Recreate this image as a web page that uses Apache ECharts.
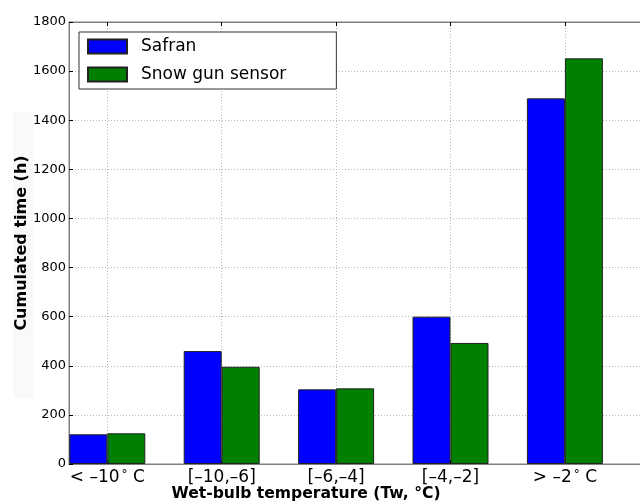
<!DOCTYPE html>
<html>
<head>
<meta charset="utf-8">
<script src="https://cdn.jsdelivr.net/npm/echarts@6/dist/echarts.min.js"></script>
<style>html,body{margin:0;padding:0;background:#fff}#c{width:640px;height:504px}</style>
</head>
<body>
<div id="c"></div>
<script>
var categories = ['< \u201310|\u00b0| C', '[\u201310,\u20136]', '[\u20136,\u20134]', '[\u20134,\u20132]', '> \u20132|\u00b0| C'];
var safran = [121, 460, 304, 600, 1489];
var snowGun = [125, 396, 308, 493, 1652];
var yTicks = [0, 200, 400, 600, 800, 1000, 1200, 1400, 1600, 1800];

var FONT = 'DejaVu Sans';
var catIdx = categories.map(function (c, i) { return i; });
function pairs(vals) { return vals.map(function (v, i) { return [i, v]; }); }
function catLabel(v) {
  var parts = categories[Math.round(v)].split('|');
  if (parts.length === 1) return '{a|' + parts[0] + '}';
  return '{a|' + parts[0] + '}{sup|' + parts[1] + '}{a|' + parts[2] + '}';
}

var chart = echarts.init(document.getElementById('c'), null, {renderer: 'canvas'});
var spine = '#7f7f7f';
var gridLine = {show: true, lineStyle: {color: '#b8b8b8', type: [1, 2], width: 1}};
chart.setOption({
  animation: false,
  backgroundColor: '#fff',
  textStyle: {fontFamily: FONT},
  graphic: [{
    type: 'rect', z: -10, silent: true,
    shape: {x: 13, y: 112, width: 20, height: 286},
    style: {fill: '#f9f9f9'}
  }, {
    type: 'text', z: 10,
    style: {x: 306, y: 494, text: 'Wet-bulb temperature (Tw, \u00b0C)', font: 'bold 15.6px "DejaVu Sans"',
      fill: '#000', align: 'center', verticalAlign: 'middle'}
  }],
  grid: {left: 69, top: 22, width: 573, bottom: 40, show: true, borderColor: spine, borderWidth: 1,
    containLabel: false, outerBoundsMode: 'none'},
  legend: {
    orient: 'vertical', left: 79, top: 32,
    data: ['Safran', 'Snow gun sensor'],
    icon: 'rect', itemWidth: 39, itemHeight: 14, itemGap: 11,
    padding: [6, 50, 6, 8],
    backgroundColor: '#fff', borderColor: '#333', borderWidth: 1,
    textStyle: {fontFamily: FONT, fontSize: 17, color: '#000', lineHeight: 17, padding: [0, 0, 0, 9]}
  },
  xAxis: [{
    type: 'value', min: -0.3348, max: 4.674,
    axisLine: {show: true, onZero: false, lineStyle: {color: spine}},
    axisTick: {show: true, inside: true, length: 4, customValues: catIdx, lineStyle: {color: '#000'}},
    axisLabel: {customValues: catIdx, formatter: catLabel, margin: 5,
      rich: {
        a: {fontFamily: FONT, fontSize: 17, color: '#000', lineHeight: 18},
        sup: {fontFamily: FONT, fontSize: 12, color: '#000', verticalAlign: 'top', lineHeight: 18, padding: [0, 0, 0, 2]}
      }},
    splitLine: gridLine
  }, {
    type: 'value', min: -0.3348, max: 4.674, position: 'top',
    axisLine: {show: true, onZero: false, lineStyle: {color: spine}},
    axisTick: {show: true, inside: true, length: 4, customValues: catIdx, lineStyle: {color: '#000'}},
    axisLabel: {show: false}, splitLine: {show: false}
  }],
  yAxis: [{
    type: 'value', min: 0, max: 1800, interval: 200,
    name: 'Cumulated time (h)', nameLocation: 'middle', nameGap: 39, nameMoveOverlap: false,
    nameTextStyle: {fontFamily: FONT, fontSize: 16, fontWeight: 'bold', color: '#000'},
    axisLine: {show: true, onZero: false, lineStyle: {color: spine}},
    axisTick: {show: true, inside: true, length: 4, lineStyle: {color: '#000'}},
    axisLabel: {fontFamily: FONT, fontSize: 13, color: '#000', margin: 3,
      formatter: function (v) { return yTicks.indexOf(v) >= 0 ? String(v) : ''; }},
    splitLine: gridLine
  }],
  series: [{
    name: 'Safran', type: 'bar', data: pairs(safran),
    barWidth: 38, barGap: '0%',
    itemStyle: {color: '#0000ff', borderColor: '#222', borderWidth: 1}
  }, {
    name: 'Snow gun sensor', type: 'bar', data: pairs(snowGun),
    barWidth: 38, barGap: '0%',
    itemStyle: {color: '#008000', borderColor: '#222', borderWidth: 1}
  }]
});
</script>
</body>
</html>
